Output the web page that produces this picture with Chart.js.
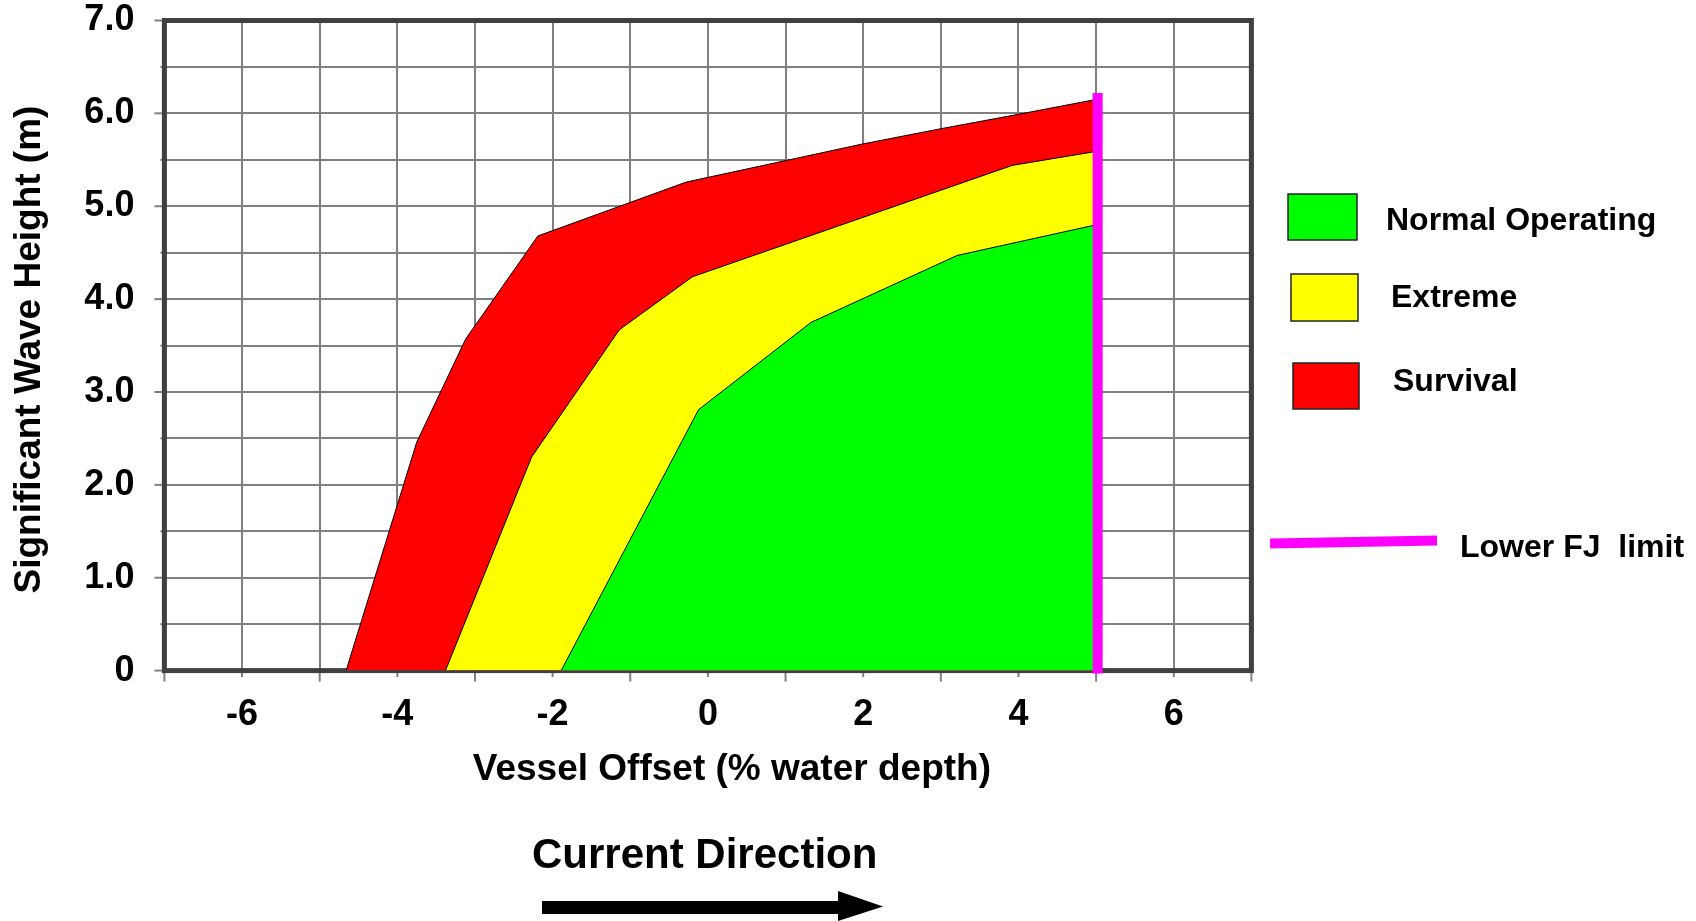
<!DOCTYPE html>
<html>
<head>
<meta charset="utf-8">
<script src="https://cdn.jsdelivr.net/npm/chart.js@4.4.1/dist/chart.umd.min.js"></script>
<style>
html,body{margin:0;padding:0;background:#fff;}
#wrap{width:1696px;height:921px;position:relative;}
</style>
</head>
<body>
<div id="wrap"><canvas id="c"></canvas></div>
<script>
// ---------------- data ----------------
const seriesNames = ['Normal Operating', 'Extreme', 'Survival'];
const limitName = 'Lower FJ  limit';

const normalX = [-1.89, -0.12, 1.33, 3.21, 5.0];
const normalY = [0, 2.81, 3.75, 4.47, 4.80];

const extremeX = [-3.38, -2.27, -1.14, -0.20, 3.92, 5.0];
const extremeY = [0, 2.30, 3.67, 4.24, 5.44, 5.59];

const survivalX = [-4.66, -3.75, -3.12, -2.19, -0.28, 1.99, 2.97, 4.0, 5.0];
const survivalY = [0, 2.46, 3.57, 4.68, 5.26, 5.67, 5.83, 5.99, 6.15];

const limitX = [5.02, 5.02];
const limitY = [-0.03, 6.22];

const xTickValues = [-6, -4, -2, 0, 2, 4, 6];
const xTickLabels = ['-6', '-4', '-2', '0', '2', '4', '6'];
const yTickValues = [0, 1, 2, 3, 4, 5, 6, 7];
const yTickLabels = ['0', '1.0', '2.0', '3.0', '4.0', '5.0', '6.0', '7.0'];

const xAxisTitle = 'Vessel Offset (% water depth)';
const yAxisTitle = 'Significant Wave Height (m)';
const directionLabel = 'Current Direction';

// ---------------- styles ----------------
const FONT = '"Liberation Sans", Arial, Helvetica, sans-serif';
const COLORS = ['#00FF00', '#FFFF00', '#FF0000'];
const LIMIT_COLOR = '#FF00FF';
const GRID = '#808080';
const FRAME = '#404040';

const pts = (xs, ys) => xs.map((x, i) => ({ x: x, y: ys[i] }));
const labelFor = (vals, labels, v) => {
  const i = vals.findIndex(t => Math.abs(t - v) < 1e-6);
  return i >= 0 ? labels[i] : '';
};

// ticks + frame drawn behind the filled areas
const framePlugin = {
  id: 'frame',
  beforeDatasetsDraw(chart) {
    const { ctx, chartArea: a, scales: { x, y } } = chart;
    ctx.save();
    ctx.strokeStyle = GRID;
    ctx.lineWidth = 2;
    x.ticks.forEach(t => {
      const px = x.getPixelForValue(t.value);
      const len = Math.abs(Math.round(t.value)) % 2 === 1 ? 11 : 6.5;
      ctx.beginPath(); ctx.moveTo(px, a.bottom); ctx.lineTo(px, a.bottom + len); ctx.stroke();
    });
    y.ticks.forEach(t => {
      const py = y.getPixelForValue(t.value);
      const len = Math.abs(t.value % 1) < 1e-6 ? 10 : 4;
      ctx.beginPath(); ctx.moveTo(a.left - len, py); ctx.lineTo(a.left, py); ctx.stroke();
    });
    ctx.strokeStyle = FRAME;
    ctx.lineWidth = 5;
    ctx.strokeRect(a.left, a.top, a.right - a.left, a.bottom - a.top);
    ctx.restore();
  }
};

// shift of the axis titles relative to the plot centre
const titleShiftPlugin = {
  id: 'titleShift',
  afterLayout(chart) {
    const sx = chart.scales.x, sy = chart.scales.y;
    if (!sx._shifted) {
      const o = sx.drawTitle.bind(sx);
      sx.drawTitle = function () { const l = this.left, r = this.right; this.left += 24; this.right += 24; o(); this.left = l; this.right = r; };
      sx._shifted = true;
    }
    if (!sy._shifted) {
      const o = sy.drawTitle.bind(sy);
      sy.drawTitle = function () { const t = this.top, b = this.bottom; this.top += 4; this.bottom += 4; o(); this.top = t; this.bottom = b; };
      sy._shifted = true;
    }
  }
};

// custom legend + current direction annotation
const legendPlugin = {
  id: 'customLegend',
  afterDraw(chart) {
    const ctx = chart.ctx;
    const ds = chart.data.datasets;
    const boxes = [
      { r: [1288, 194, 69, 46], tx: 1386, ty: 230 },
      { r: [1291, 274, 67, 47], tx: 1391, ty: 307 },
      { r: [1293, 363, 66, 46], tx: 1393, ty: 391 }
    ];
    ctx.save();
    ctx.font = 'bold 32px ' + FONT;
    ctx.textBaseline = 'alphabetic';
    ctx.textAlign = 'left';
    boxes.forEach((b, i) => {
      ctx.fillStyle = ds[i].backgroundColor;
      ctx.fillRect(b.r[0], b.r[1], b.r[2], b.r[3]);
      ctx.strokeStyle = '#222';
      ctx.lineWidth = 1.5;
      ctx.strokeRect(b.r[0], b.r[1], b.r[2], b.r[3]);
      ctx.fillStyle = '#000';
      ctx.fillText(ds[i].label, b.tx, b.ty);
    });
    // limit line legend
    ctx.strokeStyle = ds[3].borderColor;
    ctx.lineWidth = 10;
    ctx.lineCap = 'butt';
    ctx.beginPath(); ctx.moveTo(1270, 543.5); ctx.lineTo(1437, 540.5); ctx.stroke();
    ctx.fillStyle = '#000';
    ctx.fillText(ds[3].label, 1460, 557);

    // current direction
    ctx.font = 'bold 42px ' + FONT;
    ctx.fillText(directionLabel, 532, 868);
    ctx.fillRect(542, 901, 300, 13);
    ctx.beginPath();
    ctx.moveTo(838, 891); ctx.lineTo(883, 906.5); ctx.lineTo(838, 921); ctx.closePath();
    ctx.fill();
    ctx.restore();
  }
};

const tickFont = { family: FONT, size: 36, weight: 'bold', lineHeight: 1 };
const titleFont = { family: FONT, size: 37, weight: 'bold', lineHeight: 1.2 };

const zeroPad = s => { s.paddingTop = 0; s.paddingBottom = 0; s.paddingLeft = 0; s.paddingRight = 0; };

new Chart(document.getElementById('c'), {
  type: 'line',
  data: {
    datasets: [
      { label: seriesNames[0], data: pts(normalX, normalY), backgroundColor: COLORS[0], borderColor: '#000', borderWidth: 1, fill: 'origin', pointRadius: 0, tension: 0, order: 1 },
      { label: seriesNames[1], data: pts(extremeX, extremeY), backgroundColor: COLORS[1], borderColor: '#000', borderWidth: 1, fill: 'origin', pointRadius: 0, tension: 0, order: 2 },
      { label: seriesNames[2], data: pts(survivalX, survivalY), backgroundColor: COLORS[2], borderColor: '#000', borderWidth: 1, fill: 'origin', pointRadius: 0, tension: 0, order: 3 },
      { label: limitName, data: pts(limitX, limitY), borderColor: LIMIT_COLOR, backgroundColor: LIMIT_COLOR, borderWidth: 10, borderCapStyle: 'butt', fill: false, pointRadius: 0, order: 0, clip: 20 }
    ]
  },
  options: {
    responsive: true,
    maintainAspectRatio: false,
    animation: false,
    layout: { padding: { left: 0, top: 20.5, right: 444.6, bottom: 0 } },
    plugins: { legend: { display: false }, tooltip: { enabled: false } },
    scales: {
      x: {
        type: 'linear', min: -7, max: 7,
        afterFit: s => { s.height = 250.4; zeroPad(s); },
        grid: { color: GRID, lineWidth: 2, drawTicks: false },
        border: { display: false },
        ticks: {
          stepSize: 1, autoSkip: false, maxRotation: 0, minRotation: 0, padding: 26,
          color: '#000', font: tickFont,
          callback: v => labelFor(xTickValues, xTickLabels, v)
        },
        title: { display: true, text: xAxisTitle, color: '#000', font: titleFont, padding: { top: 0, bottom: 129 } }
      },
      y: {
        type: 'linear', min: 0, max: 7,
        afterFit: s => { s.width = 164.4; zeroPad(s); },
        grid: { color: GRID, lineWidth: 2, drawTicks: false },
        border: { display: false },
        ticks: {
          stepSize: 0.5, autoSkip: false, padding: 30,
          color: '#000', font: tickFont,
          callback: v => labelFor(yTickValues, yTickLabels, v)
        },
        title: { display: true, text: yAxisTitle, color: '#000', font: titleFont, padding: { top: 8, bottom: 0 } }
      }
    }
  },
  plugins: [framePlugin, titleShiftPlugin, legendPlugin]
});
</script>
</body>
</html>
